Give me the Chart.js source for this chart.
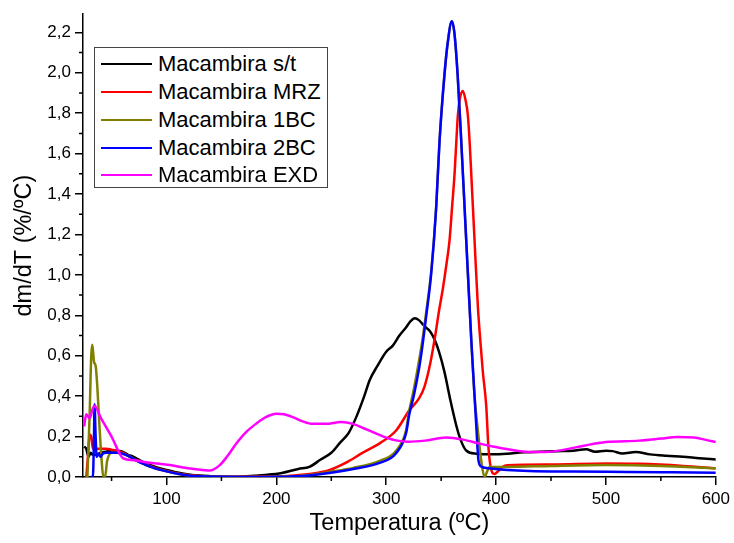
<!DOCTYPE html>
<html>
<head>
<meta charset="utf-8">
<script src="https://cdn.jsdelivr.net/npm/chart.js@4.4.0/dist/chart.umd.min.js"></script>
<style>
  html, body { margin: 0; padding: 0; background: #fff; }
  #wrap { position: relative; width: 734px; height: 543px; }
  #legend {
    position: absolute; left: 94px; top: 47px; width: 234px; height: 141px;
    border: 1px solid #444; box-sizing: border-box; background: #fff;
    font-family: "Liberation Sans", Arial, sans-serif; font-size: 22px; color: #000;
  }
  .row { position: absolute; left: 0; height: 28px; line-height: 28px; white-space: nowrap; }
  .row .ln { position: absolute; left: 6px; top: 13px; width: 51px; height: 2px; }
  .row .tx { position: absolute; left: 63px; top: 0; }
</style>
</head>
<body>
<div id="wrap">
  <canvas id="dtg" width="734" height="543"></canvas>
  <div id="legend"></div>
</div>
<script>
// nomes das amostras
const seriesNames = ['Macambira s/t', 'Macambira MRZ', 'Macambira 1BC', 'Macambira 2BC', 'Macambira EXD'];
const seriesColors = ['#000000', '#ff0000', '#808000', '#0000ff', '#ff00ff'];

// temperatura (ºC) e dm/dT (%/ºC)
const tempST = [25, 27, 29, 31, 33, 36, 40, 45, 50, 55, 60, 65, 70, 75, 80, 85, 90, 100, 110, 120,
  130, 140, 150, 160, 170, 180, 190, 205, 220, 230, 240, 250, 258, 266, 273, 280, 285, 292, 300, 306,
  312, 318, 322, 326, 330, 335, 340, 344, 348, 353, 358, 364, 368, 373, 382, 397, 410, 425, 440, 455,
  470, 482, 490, 500, 506, 515, 527, 540, 555, 570, 585, 600];
const dtgST = [0.15, 0.14, 0.10, 0.12, 0.11, 0.11, 0.12, 0.125, 0.13, 0.13, 0.125, 0.11, 0.10, 0.085, 0.07, 0.06, 0.05, 0.035, 0.022, 0.013,
  0.007, 0.004, 0.002, 0.001, 0.003, 0.006, 0.01, 0.02, 0.04, 0.05, 0.085, 0.12, 0.17, 0.22, 0.30, 0.40, 0.48, 0.55, 0.62, 0.65,
  0.70, 0.74, 0.77, 0.785, 0.775, 0.745, 0.72, 0.68, 0.62, 0.52, 0.39, 0.25, 0.18, 0.13, 0.115, 0.112, 0.115, 0.122, 0.125, 0.128,
  0.13, 0.137, 0.125, 0.13, 0.128, 0.116, 0.124, 0.112, 0.105, 0.1, 0.093, 0.087];

const tempMRZ = [27, 28.5, 30, 31.5, 33, 36, 40, 45, 50, 55, 60, 65, 70, 75, 80, 85, 90, 100, 110, 120,
  130, 140, 150, 170, 190, 210, 230, 248, 263, 278, 295, 309, 321, 330, 335, 340, 344, 348, 351.5, 355,
  357.6, 360, 362.2, 364, 365.2, 367, 369.7, 372, 374.3, 376, 377.4, 380.4, 383.4, 386, 388, 391, 393, 395, 398.5, 402,
  406, 410, 450, 500, 530, 570, 600];
const dtgMRZ = [0, 0.1, 0.21, 0.2, 0.14, 0.14, 0.14, 0.14, 0.135, 0.13, 0.12, 0.105, 0.09, 0.078, 0.065, 0.055, 0.045, 0.03, 0.018, 0.01,
  0.005, 0.002, 0.001, 0.001, 0.002, 0.005, 0.015, 0.034, 0.07, 0.118, 0.17, 0.23, 0.33, 0.39, 0.45, 0.56, 0.68, 0.82, 0.93, 1.06,
  1.17, 1.34, 1.5, 1.68, 1.79, 1.87, 1.91, 1.87, 1.79, 1.65, 1.5, 1.17, 0.845, 0.65, 0.517, 0.354, 0.15, 0.05, 0.015, 0.03,
  0.05, 0.058, 0.062, 0.067, 0.065, 0.055, 0.043];

const temp1BC = [28, 30, 31.5, 32.5, 34, 35.5, 37, 39, 41, 42.5, 44, 46, 50, 55, 60, 65, 70, 75, 80, 85,
  90, 100, 110, 120, 130, 140, 150, 170, 200, 230, 248, 270, 294, 309, 318, 321, 325, 330, 333, 336.5,
  341, 345.5, 348.5, 353, 356, 359.7, 362, 365, 368.3, 371.3, 374.3, 377.4, 380.4, 384, 387, 389.5, 392, 394, 410, 450,
  500, 550, 600];
const dtg1BC = [0, 0.3, 0.6, 0.655, 0.57, 0.55, 0.45, 0.25, 0.08, 0, 0, 0.08, 0.12, 0.12, 0.115, 0.105, 0.09, 0.075, 0.063, 0.052,
  0.042, 0.028, 0.016, 0.008, 0.004, 0.002, 0.001, 0, 0.001, 0.01, 0.025, 0.045, 0.08, 0.13, 0.23, 0.33, 0.43, 0.58, 0.68, 0.82,
  1.02, 1.34, 1.66, 1.99, 2.15, 2.255, 2.2, 1.99, 1.66, 1.336, 1.01, 0.68, 0.40, 0.2, 0.06, 0, 0.03, 0.05, 0.05, 0.055,
  0.059, 0.055, 0.043];

const temp2BC = [31, 33, 34, 34.5, 35.5, 36.5, 38, 40, 42, 45, 50, 55, 60, 65, 70, 75, 80, 85, 90, 100,
  110, 120, 130, 140, 150, 170, 200, 230, 248, 270, 294, 309, 318, 321, 325, 330, 333, 336.5, 341, 345.5,
  348.5, 353, 356, 359.7, 362, 365, 368.3, 371.3, 374.3, 377.4, 380.4, 382, 384, 387, 395, 410, 430, 470, 520, 560,
  600];
const dtg2BC = [0, 0, 0.2, 0.36, 0.2, 0.1, 0.115, 0.1, 0.115, 0.12, 0.12, 0.12, 0.115, 0.105, 0.09, 0.075, 0.063, 0.052, 0.042, 0.028,
  0.016, 0.008, 0.004, 0.002, 0.001, 0, 0.001, 0.008, 0.02, 0.04, 0.07, 0.118, 0.215, 0.31, 0.4, 0.54, 0.65, 0.8, 1.01, 1.336,
  1.66, 1.99, 2.15, 2.255, 2.2, 1.99, 1.66, 1.336, 1.01, 0.68, 0.40, 0.25, 0.08, 0.05, 0.042, 0.035, 0.03, 0.027, 0.025, 0.023,
  0.021];

const tempEXD = [25, 27, 30, 33, 34.5, 40, 50, 60.6, 70, 85, 103, 115, 125, 139.5, 148.5, 155, 163.7, 172, 181.9, 190,
  200, 207, 215, 224, 233, 245, 259, 269.7, 280, 291, 300, 310, 320, 335, 354.5, 370, 385, 398, 412, 430,
  445, 460, 480, 500, 530, 550, 565, 580, 590, 600];
const dtgEXD = [0.25, 0.31, 0.29, 0.34, 0.352, 0.295, 0.2, 0.092, 0.083, 0.07, 0.059, 0.047, 0.04, 0.032, 0.059, 0.1, 0.167, 0.22, 0.265, 0.295,
  0.313, 0.31, 0.296, 0.275, 0.263, 0.263, 0.272, 0.263, 0.24, 0.215, 0.195, 0.18, 0.175, 0.18, 0.195, 0.185, 0.165, 0.15, 0.136, 0.124,
  0.124, 0.133, 0.155, 0.173, 0.18, 0.19, 0.198, 0.195, 0.185, 0.173];

// eixos
const xMin = 24, xMax = 600, xStep = 100;
const yMin = 0, yMax = 2.29, yStep = 0.2;

const temps = [tempST, tempMRZ, temp1BC, temp2BC, tempEXD];
const dtgs = [dtgST, dtgMRZ, dtg1BC, dtg2BC, dtgEXD];

const fontFam = '"Liberation Sans", Arial, sans-serif';

// ticks menores (o Chart.js nao tem minor ticks)
const minorTicks = {
  id: 'minorTicks',
  afterDraw(chart) {
    const ctx = chart.ctx;
    const xs = chart.scales.x;
    const ys = chart.scales.y;
    ctx.save();
    ctx.strokeStyle = '#000';
    ctx.lineWidth = 1.5;
    ctx.beginPath();
    for (let v = xStep / 2; v < xMax; v += xStep) {
      if (v < xMin) continue;
      const px = xs.getPixelForValue(v);
      ctx.moveTo(px, ys.bottom);
      ctx.lineTo(px, ys.bottom + 4);
    }
    for (let v = yStep / 2; v < yMax; v += yStep) {
      const py = ys.getPixelForValue(v);
      ctx.moveTo(xs.left, py);
      ctx.lineTo(xs.left - 4, py);
    }
    ctx.stroke();
    ctx.restore();
  }
};

const datasets = seriesNames.map((name, i) => ({
  label: name,
  data: temps[i].map((t, j) => ({ x: t, y: dtgs[i][j] })),
  borderColor: seriesColors[i],
  backgroundColor: seriesColors[i],
  borderWidth: 2.5,
  pointRadius: 0,
  showLine: true,
  fill: false,
  cubicInterpolationMode: 'monotone',
  order: seriesNames.length - i
}));

const ctx = document.getElementById('dtg').getContext('2d');
new Chart(ctx, {
  type: 'scatter',
  data: { datasets: datasets },
  options: {
    responsive: false,
    animation: false,
    layout: { padding: { left: 0, right: 17, top: 10, bottom: 0 } },
    plugins: {
      legend: { display: false },
      tooltip: { enabled: false }
    },
    scales: {
      x: {
        type: 'linear',
        min: xMin,
        max: xMax,
        border: { display: true, color: '#000', width: 1.5 },
        grid: { drawOnChartArea: false, drawTicks: true, tickLength: 8, color: '#000', lineWidth: 1.5 },
        ticks: {
          stepSize: xStep,
          includeBounds: false,
          color: '#000',
          padding: 4,
          maxRotation: 0,
          font: { family: fontFam, size: 17 }
        },
        title: {
          display: true,
          text: 'Temperatura (ºC)',
          color: '#000',
          padding: { top: 0, bottom: 5 },
          font: { family: fontFam, size: 23.5 }
        },
        afterFit: (scale) => { scale.height = 66; }
      },
      y: {
        type: 'linear',
        min: yMin,
        max: yMax,
        border: { display: true, color: '#000', width: 1.5 },
        grid: { drawOnChartArea: false, drawTicks: true, tickLength: 8, color: '#000', lineWidth: 1.5 },
        ticks: {
          stepSize: yStep,
          includeBounds: false,
          color: '#000',
          padding: 4,
          font: { family: fontFam, size: 17 },
          callback: (v) => v.toFixed(1).replace('.', ',')
        },
        title: {
          display: true,
          text: 'dm/dT (%/ºC)',
          color: '#000',
          padding: { top: 10, bottom: 0 },
          font: { family: fontFam, size: 23.5 }
        },
        afterFit: (scale) => { scale.width = 83; }
      }
    }
  },
  plugins: [minorTicks]
});

// legenda em caixa, como no Origin
const legend = document.getElementById('legend');
const rowCenters = [16, 44, 72, 100, 127];
seriesNames.forEach((name, i) => {
  const row = document.createElement('div');
  row.className = 'row';
  row.style.top = (rowCenters[i] - 14) + 'px';
  row.style.width = '100%';
  const ln = document.createElement('span');
  ln.className = 'ln';
  ln.style.background = seriesColors[i];
  const tx = document.createElement('span');
  tx.className = 'tx';
  tx.textContent = name;
  row.appendChild(ln);
  row.appendChild(tx);
  legend.appendChild(row);
});
</script>
</body>
</html>
